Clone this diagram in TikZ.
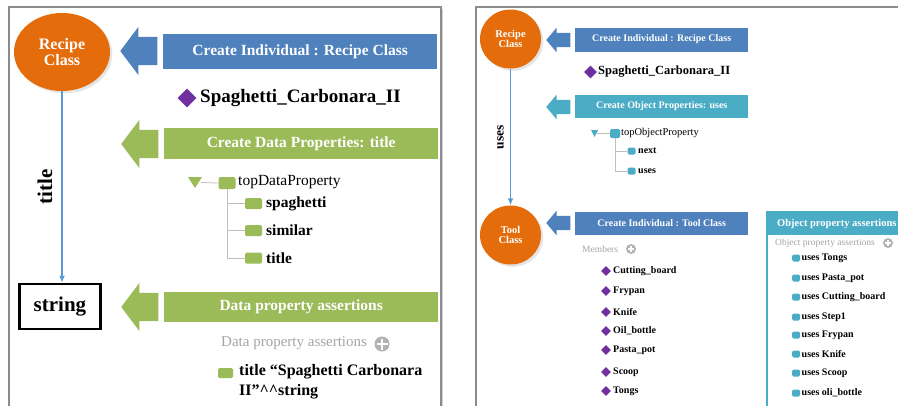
\documentclass[tikz,border=0pt]{standalone}
\usepackage{fontspec}
\setmainfont{Liberation Serif}[BoldFont={Liberation Serif Bold}]
\usetikzlibrary{arrows.meta}
\usetikzlibrary{positioning}
\usetikzlibrary{shapes.arrows,shapes.geometric}
\usetikzlibrary{shadows}

\definecolor{classorange}{RGB}{228,108,10}
\definecolor{indivblue}{RGB}{79,129,189}
\definecolor{datagreen}{RGB}{155,187,89}
\definecolor{objteal}{RGB}{75,172,198}
\definecolor{gempurple}{RGB}{112,48,160}
\definecolor{linkblue}{RGB}{91,155,213}
\definecolor{hintgrey}{RGB}{165,165,165}

\newcommand{\setpx}[1]{\fontsize{#1}{#1}\selectfont}

\begin{document}
\begin{tikzpicture}[x=1pt,y=-1pt,
    panel/.style={draw=black!45, line width=1.3pt, fill=white,
      drop shadow={shadow xshift=2pt, shadow yshift=-2pt, opacity=0.35}},
    bigclass/.style={ellipse, fill=classorange, text=white, align=center, inner sep=0pt,
      minimum width=96, minimum height=78, font=\setpx{16}\bfseries,
      drop shadow={opacity=0.2}},
    smallclass/.style={ellipse, fill=classorange, text=white, align=center, inner sep=0pt,
      minimum width=61, minimum height=59, font=\setpx{10.5}\bfseries,
      drop shadow={opacity=0.2}},
    pointer/.style={single arrow, shape border rotate=180, fill=#1, inner xsep=0pt, anchor=tip},
    bigpointer/.style={pointer=#1, minimum height=37, inner ysep=14pt,
      single arrow head extend=10pt, single arrow tip angle=106},
    smallpointer/.style={pointer=#1, minimum height=24, inner ysep=7pt,
      single arrow head extend=5pt, single arrow tip angle=100},
    bigbanner/.style={fill=#1, text=white, inner sep=0pt, anchor=west,
      minimum width=274, minimum height=35, font=\setpx{15.5}\bfseries},
    smallbanner/.style={fill=#1, text=white, inner sep=0pt, anchor=west,
      minimum width=173, minimum height=24, font=\setpx{10}\bfseries},
    gem/.style={diamond, fill=gempurple, inner sep=0pt, aspect=1},
    leaf/.style={fill=#1, rounded corners=1.5pt, inner sep=0pt},
    treeline/.style={draw=black!25, line width=0.8pt},
    bigbold/.style={inner sep=0pt, anchor=west, font=\setpx{15.5}\bfseries},
    smallbold/.style={inner sep=0pt, anchor=west, font=\setpx{10}\bfseries},
    hint/.style={inner sep=0pt, anchor=west, text=hintgrey},
    plusbtn/.style={circle, fill=black!30, inner sep=0pt,
      path picture={\draw[white, line width=#1]
        ([xshift=2pt]path picture bounding box.west) -- ([xshift=-2pt]path picture bounding box.east)
        ([yshift=-2pt]path picture bounding box.north) -- ([yshift=2pt]path picture bounding box.south);}},
    link/.style={draw=linkblue, line width=1.5pt, -{Latex[length=7pt,width=6pt]}},
  ]

    % page and the two panels
    \useasboundingbox (0,0) rectangle (898,405);
    \fill[white] (0,0) rectangle (898,405);
    \clip (0,0) rectangle (898,405);
    \draw[panel] (9,7) rectangle (441,430);
    \draw[panel] (476,7) rectangle (920,430);

    % left panel: individual
    \node[bigclass] (recipeL) at (62,52) {Recipe\\Class};
    \node[bigpointer=indivblue] (arrowL1) at (120,51) {};
    \node[bigbanner=indivblue] (bannerL1) at (163,51.5) {Create Individual : Recipe Class};
    \node[gem, minimum size=19] (gemL) at (187,98) {};
    \node[bigbold, font=\setpx{19}\bfseries] (indivL) at (200,98) {Spaghetti\_Carbonara\_II};

    % left panel: data property tree
    \node[bigpointer=datagreen] (arrowL2) at (121,144) {};
    \node[bigbanner=datagreen, minimum height=31] (bannerL2) at (164,143.5) {Create Data Properties: title};
    \fill[datagreen] (188,177) -- (202,177) -- (195,188) -- cycle;
    \coordinate (toggleL) at (201,182.5);
    \node[leaf=datagreen, minimum width=17, minimum height=12] (topL) at (227,183) {};
    \node[inner sep=0pt, anchor=west, font=\setpx{15.5}] (topLtxt) at (238,182) {topDataProperty};
    \draw[treeline] (toggleL) -- (topL.west);
    \foreach \leafname/\y [count=\i] in {spaghetti/203.5, similar/230.5, title/258} {
      \node[leaf=datagreen, minimum width=17, minimum height=11] (leafL\i) at (253.5,\y) {};
      \node[bigbold] (leafLtxt\i) at (266,\y) {\leafname};
      \draw[treeline] (topL.south) |- (leafL\i.west);
    }

    % left panel: range of title
    \node[draw, line width=2.5pt, minimum width=81, minimum height=45, inner sep=0pt,
      font=\setpx{21}\bfseries] (stringL) at (60,306.5) {string};
    \draw[link] (recipeL.south) -- (recipeL.south |- stringL.north)
      node[midway, rotate=90, anchor=south, inner sep=9pt, font=\setpx{21}\bfseries] (titleL) {title};

    % left panel: assertion
    \node[bigpointer=datagreen] (arrowL3) at (121,307) {};
    \node[bigbanner=datagreen, minimum height=30] (bannerL3) at (164,307) {Data property assertions};
    \node[hint, font=\setpx{15}] (hintL) at (221,343) {Data property assertions};
    \node[plusbtn=2pt, minimum size=15] (plusL) at (382,344) {};
    \node[leaf=datagreen, minimum width=15, minimum height=10] (valueLsq) at (225.5,373) {};
    \node[inner sep=0pt, anchor=north west, align=left, font=\fontsize{16}{20}\selectfont\bfseries]
      (valueL) at (239,364) {title “Spaghetti Carbonara\\II”\textasciicircum\textasciicircum string};

    % right panel: classes and link
    \node[smallclass] (recipeR) at (510.5,39) {Recipe\\Class};
    \node[smallclass] (toolR) at (510.5,235) {Tool\\Class};
    \draw[link] (recipeR) -- (toolR)
      node[midway, rotate=90, anchor=south, inner sep=6pt, font=\setpx{13.5}\bfseries] (usesR) {uses};

    % right panel: individual
    \node[smallpointer=indivblue] (arrowR1) at (546,40) {};
    \node[smallbanner=indivblue] (bannerR1) at (575,39.5) {Create Individual : Recipe Class};
    \node[gem, minimum size=13] (gemR) at (590.5,72) {};
    \node[smallbold, font=\setpx{12.5}\bfseries] (indivR) at (598,72) {Spaghetti\_Carbonara\_II};

    % right panel: object property tree
    \node[smallpointer=objteal] (arrowR2) at (546,107) {};
    \node[smallbanner=objteal, minimum height=23] (bannerR2) at (575,106.5) {Create Object Properties: uses};
    \fill[objteal] (591,130) -- (598,130) -- (594.5,137) -- cycle;
    \coordinate (toggleR) at (597,133.5);
    \node[leaf=objteal, minimum width=10, minimum height=9] (topR) at (615,133.5) {};
    \node[inner sep=0pt, anchor=west, font=\setpx{10.5}] (topRtxt) at (621,133) {topObjectProperty};
    \draw[treeline] (toggleR) -- (topR.west);
    \foreach \leafname/\y [count=\i] in {next/151, uses/171} {
      \node[leaf=objteal, minimum width=8, minimum height=7] (leafR\i) at (631.5,\y) {};
      \node[smallbold] (leafRtxt\i) at (638,\y) {\leafname};
      \draw[treeline] (topR.south) |- (leafR\i.west);
    }

    % right panel: tool individuals
    \node[smallpointer=indivblue] (arrowR3) at (546,223) {};
    \node[smallbanner=indivblue, minimum height=23] (bannerR3) at (575,223.5) {Create Individual : Tool Class};
    \node[hint, font=\setpx{9.5}] (hintR1) at (582,249) {Members};
    \node[plusbtn=1.3pt, minimum size=10] (plusR1) at (631,249) {};
    \foreach \tool/\y [count=\i] in {Cutting\_board/271, Frypan/291, Knife/312, Oil\_bottle/331,
        Pasta\_pot/350, Scoop/372, Tongs/391} {
      \node[gem, minimum size=10] (toolgem\i) at (606,\y) {};
      \node[smallbold] (tooltxt\i) at (613,\y) {\tool};
    }

    % right panel: object property assertions
    \draw[objteal, line width=1.5pt] (767,212) rectangle (920,430);
    \fill[objteal] (767,212) rectangle (920,235);
    \node[inner sep=0pt, anchor=west, text=white, font=\setpx{10.5}\bfseries] (assertR) at (777,223.5) {Object property assertions};
    \node[hint, font=\setpx{9.5}] (hintR2) at (775,243) {Object property assertions};
    \node[plusbtn=1.3pt, minimum size=10] (plusR2) at (888,243) {};
    \foreach \tool/\y [count=\i] in {Tongs/258, Pasta\_pot/278, Cutting\_board/297, Step1/317,
        Frypan/335, Knife/354, Scoop/373, oli\_bottle/393} {
      \node[leaf=objteal, minimum width=8, minimum height=7] (usesq\i) at (796,\y) {};
      \node[smallbold] (usetxt\i) at (801.5,\y) {uses \tool};
    }

\end{tikzpicture}
\end{document}
